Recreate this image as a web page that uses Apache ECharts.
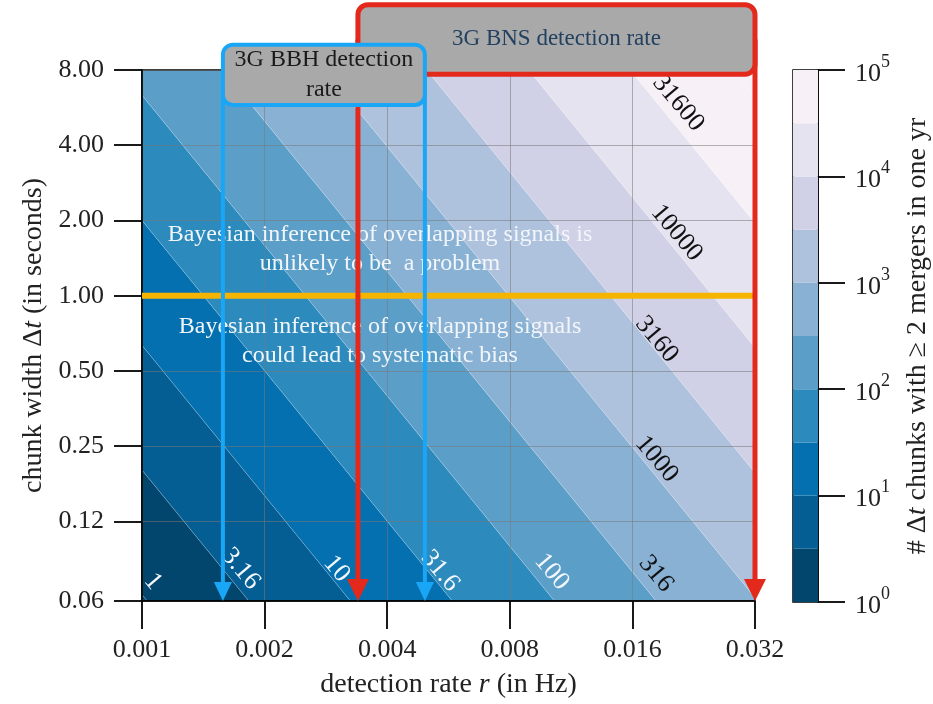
<!DOCTYPE html>
<html><head><meta charset="utf-8">
<script src="https://cdn.jsdelivr.net/npm/echarts@6/dist/echarts.min.js"></script>
<style>html,body{margin:0;padding:0;background:#fff}#c{width:933px;height:704px}</style>
</head><body><div id="c"></div>
<script>
// ---------------- data ----------------
// contour levels of "# dt chunks with >= 2 mergers in one yr"
const contourLevels = [1, 3.16, 10, 31.6, 100, 316, 1000, 3160, 10000, 31600, 100000];
const contourLabelText = ["1", "3.16", "10", "31.6", "100", "316", "1000", "3160", "10000", "31600"];
// detection rate r (Hz) where each level line meets the bottom edge (dt = 0.06 s) and the top edge (dt = 8 s)
const levelRateAtBottom = [0.00103, 0.00183, 0.00325, 0.00578, 0.0103, 0.0183, 0.0325, 0.0578, 0.103, 0.183, 0.325];
const levelRateAtTop    = [0.000089, 0.000158, 0.000281, 0.000500, 0.00089, 0.00158, 0.00281, 0.00500, 0.0089, 0.0158, 0.0281];
// where the inline contour labels sit (r in Hz, dt in s)
const labelRate = [0.001064, 0.001747, 0.003006, 0.005393, 0.01014, 0.01828, 0.01835, 0.01835, 0.02055, 0.02074];
const labelDt   = [0.0717, 0.0807, 0.0807, 0.0792, 0.0785, 0.0771, 0.2218, 0.668, 1.783, 5.89];
// axis ticks
const xTickValues = [0.001, 0.002, 0.004, 0.008, 0.016, 0.032];
const xTickLabels = ["0.001", "0.002", "0.004", "0.008", "0.016", "0.032"];
const yTickValues = [0.06, 0.125, 0.25, 0.5, 1, 2, 4, 8];
const yTickLabels = ["0.06", "0.12", "0.25", "0.50", "1.00", "2.00", "4.00", "8.00"];
const cbTickExponents = [0, 1, 2, 3, 4, 5];
// annotations
const thresholdDt = 1.0;                 // orange line
const bbhRates = [0.00158, 0.00495];     // 3G BBH detection rate range (Hz)
const bnsRates = [0.00339, 0.032];       // 3G BNS detection rate range (Hz)
const textAbove = "Bayesian inference of overlapping signals is\nunlikely to be  a problem";
const textBelow = "Bayesian inference of overlapping signals\ncould lead to systematic bias";

// ---------------- styles ----------------
const bandColors = ['#03466d', '#045e94', '#0570b0', '#2c8abd', '#5b9fc9',
                    '#88b1d4', '#aec1dd', '#d0d1e6', '#e6e3f0', '#f7f1f7'];
const SERIF = '"Liberation Serif", "Times New Roman", serif';
const BLUE = '#1aa6f7', RED = '#e3291c', BOXFILL = '#a9a9a9';

// axis coordinates: doublings of r above the first tick, log2 of dt
const fx = r => Math.log2(r / xTickValues[0]);
const fy = dt => Math.log2(dt);
const yMin = fy(yTickValues[0]), yMax = fy(yTickValues[yTickValues.length - 1]);
const xMin = fx(xTickValues[0]), xMax = fx(xTickValues[xTickValues.length - 1]);

function lineX(i, which) {
  if (i < 0) return -20;
  if (i >= contourLevels.length) return 40;
  return fx(which === 'b' ? levelRateAtBottom[i] : levelRateAtTop[i]);
}

const bandItems = [];
for (let i = -1; i < contourLevels.length; i++) bandItems.push([i, 0]);

const chart = echarts.init(document.getElementById('c'), null, {renderer: 'canvas'});
const option = {
  animation: false,
  backgroundColor: '#fff',
  grid: [
    {left: 142, top: 70, width: 613, height: 532, show: true, borderColor: '#000', borderWidth: 1.5, backgroundColor: 'transparent'},
    {left: 793, top: 70, width: 27, height: 532, show: true, borderColor: '#000', borderWidth: 1.5, backgroundColor: 'transparent'}
  ],
  xAxis: [
    {
      type: 'value', gridIndex: 0, min: xMin, max: xMax, interval: 1, position: 'bottom',
      name: 'detection rate {i|r} (in Hz)', nameLocation: 'middle', nameGap: 70,
      nameTextStyle: {fontFamily: SERIF, fontSize: 28, color: '#222', rich: {i: {fontFamily: SERIF, fontSize: 28, fontStyle: 'italic', color: '#222'}}},
      axisLine: {show: true, onZero: false, lineStyle: {color: '#000', width: 1.5}},
      axisTick: {show: true, inside: false, length: 28, lineStyle: {color: '#000', width: 1.8}},
      axisLabel: {margin: 36, fontFamily: SERIF, fontSize: 26, color: '#222',
        formatter: v => xTickLabels[Math.round(v)]},
      splitLine: {show: true, lineStyle: {color: 'rgba(120,120,120,0.55)', width: 1}}
    },
    {type: 'value', gridIndex: 1, min: 0, max: 1, show: false}
  ],
  yAxis: [
    {
      type: 'value', gridIndex: 0, min: yMin, max: yMax, position: 'left',
      name: 'chunk width {u|Δ}{i|t} (in seconds)', nameLocation: 'middle', nameGap: 92, nameRotate: 90,
      nameTextStyle: {fontFamily: SERIF, fontSize: 28, color: '#222',
        rich: {i: {fontFamily: SERIF, fontSize: 28, fontStyle: 'italic', color: '#222'}, u: {fontFamily: SERIF, fontSize: 28, color: '#222'}}},
      axisLine: {show: true, onZero: false, lineStyle: {color: '#000', width: 1.5}},
      axisTick: {show: true, inside: false, length: 28, lineStyle: {color: '#000', width: 1.8},
        customValues: yTickValues.map(fy)},
      axisLabel: {margin: 38, fontFamily: SERIF, fontSize: 26, color: '#222',
        customValues: yTickValues.map(fy),
        formatter: v => {
          let best = 0, d = 1e9;
          yTickValues.forEach((t, k) => { const e = Math.abs(fy(t) - v); if (e < d) { d = e; best = k; } });
          return yTickLabels[best];
        }},
      splitLine: {show: true, lineStyle: {color: 'rgba(120,120,120,0.55)', width: 1}}
    },
    {
      type: 'value', gridIndex: 1, position: 'right', min: 0, max: 5, interval: 1,
      name: '# {u|Δ}{i|t} chunks with ≥ 2 mergers in one yr', nameLocation: 'middle', nameGap: 86, nameRotate: 90,
      nameTextStyle: {fontFamily: SERIF, fontSize: 28, color: '#222',
        rich: {i: {fontFamily: SERIF, fontSize: 28, fontStyle: 'italic', color: '#222'}, u: {fontFamily: SERIF, fontSize: 28, color: '#222'}}},
      axisLine: {show: true, onZero: false, lineStyle: {color: '#000', width: 1.5}},
      axisTick: {show: true, inside: false, length: 27, lineStyle: {color: '#000', width: 1.8}},
      axisLabel: {margin: 37, color: '#222',
        formatter: v => '{b|10}{s|' + cbTickExponents[Math.round(v)] + '}',
        rich: {
          b: {fontFamily: SERIF, fontSize: 26, color: '#222', verticalAlign: 'bottom', lineHeight: 34},
          s: {fontFamily: SERIF, fontSize: 18, color: '#222', verticalAlign: 'top', lineHeight: 34}
        }},
      splitLine: {show: false}
    }
  ],
  series: [
    {
      // filled contour bands
      type: 'custom', xAxisIndex: 0, yAxisIndex: 0, z: -1, clip: true, silent: true,
      data: bandItems,
      renderItem: (params, api) => {
        const i = api.value(0);
        const pts = [
          [lineX(i, 'b'), yMin], [lineX(i, 't'), yMax],
          [lineX(i + 1, 't'), yMax], [lineX(i + 1, 'b'), yMin]
        ].map(p => api.coord(p));
        const col = bandColors[Math.max(0, Math.min(bandColors.length - 1, i))];
        return {type: 'polygon', shape: {points: pts},
          style: {fill: col, stroke: 'rgba(255,255,255,0.22)', lineWidth: 0.8}};
      }
    },
    {
      // threshold line at dt = 1 s
      type: 'line', xAxisIndex: 0, yAxisIndex: 0, z: 3, silent: true, symbol: 'none',
      data: [[xMin, fy(thresholdDt)], [xMax, fy(thresholdDt)]],
      lineStyle: {color: '#f5b400', width: 6}
    },
    {
      // contour labels
      type: 'custom', xAxisIndex: 0, yAxisIndex: 0, z: 4, clip: false, silent: true,
      data: contourLabelText.map((t, i) => [fx(labelRate[i]), fy(labelDt[i])]),
      renderItem: (params, api) => {
        const i = params.dataIndex;
        const p = api.coord([api.value(0), api.value(1)]);
        return {type: 'text', x: p[0], y: p[1], rotation: -0.87,
          style: {text: contourLabelText[i], fill: i < 5 ? '#f4f8fc' : '#111',
            font: '26px ' + SERIF, align: 'center', verticalAlign: 'middle'}};
      }
    },
    {
      // region annotations
      type: 'custom', xAxisIndex: 0, yAxisIndex: 0, z: 4, clip: false, silent: true,
      data: [[fx(0.00384), fy(1.53)], [fx(0.00384), fy(0.655)]],
      renderItem: (params, api) => {
        const p = api.coord([api.value(0), api.value(1)]);
        return {type: 'text', x: p[0], y: p[1],
          style: {text: params.dataIndex === 0 ? textAbove : textBelow, fill: '#f2f6fa',
            font: '24px ' + SERIF, align: 'center', verticalAlign: 'middle', lineHeight: 29}};
      }
    },
    {
      // detection-rate boxes and arrows
      type: 'custom', xAxisIndex: 0, yAxisIndex: 0, z: 6, clip: false, silent: true,
      data: [[0, 0]],
      renderItem: (params, api) => {
        const children = [];
        const bottom = api.coord([0, yMin])[1];
        function bracket(rates, dtTop, dtBot, color, lw, head, text, textColor, fs) {
          const a = api.coord([fx(rates[0]), fy(dtTop)]);
          const b = api.coord([fx(rates[1]), fy(dtBot)]);
          const mid = (a[1] + b[1]) / 2;
          [a[0], b[0]].forEach(x => {
            children.push({type: 'line', shape: {x1: x, y1: mid, x2: x, y2: bottom - head.h + 2},
              style: {stroke: color, lineWidth: lw}});
            children.push({type: 'polygon', shape: {points: [[x - head.w / 2, bottom - head.h], [x + head.w / 2, bottom - head.h], [x, bottom]]},
              style: {fill: color}});
          });
          children.push({type: 'rect', shape: {x: a[0], y: a[1], width: b[0] - a[0], height: b[1] - a[1], r: 10},
            style: {fill: BOXFILL, stroke: color, lineWidth: lw}});
          children.push({type: 'text', x: (a[0] + b[0]) / 2, y: mid,
            style: {text: text, fill: textColor, font: fs + 'px ' + SERIF, align: 'center', verticalAlign: 'middle', lineHeight: 30}});
        }
        bracket(bnsRates, 14.6, 7.7, RED, 5, {w: 22, h: 22}, '3G BNS detection rate', '#22405f', 23);
        bracket(bbhRates, 10.1, 5.8, BLUE, 4, {w: 18, h: 19}, '3G BBH detection\nrate', '#1a1a1a', 24);
        return {type: 'group', children: children};
      }
    },
    {
      // colorbar
      type: 'custom', xAxisIndex: 1, yAxisIndex: 1, z: 2, clip: true, silent: true,
      data: bandColors.map((c, i) => [i, 0]),
      renderItem: (params, api) => {
        const i = params.dataIndex;
        const lo = api.coord([0, Math.log10(contourLevels[i])]);
        const hi = api.coord([1, Math.log10(contourLevels[i + 1])]);
        return {type: 'rect', shape: {x: lo[0], y: hi[1], width: hi[0] - lo[0], height: lo[1] - hi[1]},
          style: {fill: bandColors[i]}};
      }
    }
  ]
};
chart.setOption(option);
</script>
</body></html>
